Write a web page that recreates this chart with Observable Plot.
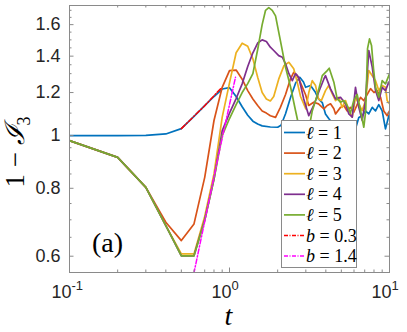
<!DOCTYPE html>
<html><head><meta charset="utf-8">
<script src="https://cdn.jsdelivr.net/npm/d3@7"></script>
<script src="https://cdn.jsdelivr.net/npm/@observablehq/plot@0.6"></script>
<style>html,body{margin:0;padding:0;background:#fff;} svg{display:block}</style>
</head><body><div id="chart"></div>
<script>
// ---- data (t, 1 - I3) ----
const l1 = [[0.1,1.0],[0.2,1.0],[0.3,1.001],[0.4,1.007],[0.5,1.03],[0.6,1.085],[0.7,1.135],[0.8,1.18],[0.9,1.218],[1.0,1.225],[1.1,1.18],[1.2,1.13],[1.3,1.09],[1.4,1.063],[1.5,1.05],[1.6,1.042],[1.8,1.037],[2.0,1.036],[2.1,1.045],[2.24,1.097],[2.41,1.176],[2.59,1.25],[2.75,1.28],[2.9,1.255],[2.99,1.227],[3.21,1.236],[3.45,1.2],[3.6,1.168],[3.8,1.15],[3.98,1.096],[4.17,1.075],[4.28,1.065],[4.6,1.043],[4.94,1.053],[5.31,1.036],[5.71,1.058],[6.13,1.029],[6.43,1.08],[6.75,1.088],[7.08,1.11],[7.42,1.096],[7.8,1.127],[8.18,1.11],[8.57,1.14],[9.0,1.11],[9.44,1.029],[9.9,1.088],[10,1.09]];
const l2 = [[0.1,0.979],[0.2,0.912],[0.3,0.803],[0.4,0.693],[0.5,0.641],[0.6,0.688],[0.7,0.838],[0.8,1.066],[0.9,1.227],[1.0,1.317],[1.1,1.32],[1.2,1.27],[1.3,1.21],[1.4,1.168],[1.5,1.136],[1.6,1.11],[1.7,1.1],[1.8,1.088],[1.94,1.08],[2.08,1.127],[2.24,1.19],[2.4,1.27],[2.52,1.307],[2.65,1.29],[2.78,1.25],[2.985,1.19],[3.13,1.136],[3.36,1.152],[3.6,1.144],[3.89,1.12],[4.08,1.136],[4.28,1.144],[4.49,1.12],[4.6,1.096],[4.94,1.127],[5.18,1.136],[5.44,1.11],[5.7,1.127],[5.98,1.104],[6.28,1.14],[6.59,1.176],[6.91,1.16],[7.25,1.19],[7.61,1.22],[8.0,1.2],[8.38,1.21],[8.79,1.176],[9.21,1.11],[9.67,1.088],[10,1.11]];
const l3 = [[0.1,0.979],[0.2,0.912],[0.3,0.803],[0.4,0.683],[0.5,0.606],[0.6,0.606],[0.7,0.71],[0.8,0.85],[0.9,1.08],[1.0,1.25],[1.1,1.42],[1.2,1.479],[1.3,1.46],[1.4,1.384],[1.5,1.28],[1.6,1.2],[1.7,1.168],[1.8,1.158],[1.89,1.18],[2.03,1.27],[2.19,1.345],[2.35,1.364],[2.52,1.327],[2.65,1.254],[2.78,1.18],[3.0,1.12],[3.13,1.2],[3.29,1.262],[3.45,1.236],[3.6,1.168],[3.75,1.16],[3.98,1.21],[4.17,1.236],[4.39,1.193],[4.6,1.16],[4.82,1.176],[5.06,1.127],[5.31,1.16],[5.57,1.112],[5.85,1.081],[6.13,1.176],[6.43,1.144],[6.75,1.112],[7.08,1.16],[7.42,1.317],[7.8,1.289],[8.18,1.262],[8.57,1.21],[9.0,1.236],[9.44,1.227],[9.67,1.16],[10,1.144]];
const l4 = [[0.1,0.979],[0.2,0.912],[0.3,0.803],[0.4,0.683],[0.5,0.601],[0.6,0.601],[0.7,0.7],[0.8,0.832],[0.9,1.02],[1.0,1.1],[1.1,1.17],[1.2,1.245],[1.3,1.34],[1.4,1.42],[1.5,1.48],[1.6,1.5],[1.7,1.49],[1.8,1.454],[1.89,1.434],[2.03,1.403],[2.14,1.394],[2.24,1.355],[2.35,1.3],[2.47,1.262],[2.585,1.3],[2.71,1.28],[2.91,1.168],[3.13,1.088],[3.36,1.136],[3.6,1.2],[3.89,1.271],[3.98,1.289],[4.28,1.219],[4.6,1.168],[4.94,1.176],[5.31,1.144],[5.57,1.096],[5.85,1.081],[6.13,1.227],[6.43,1.127],[6.75,1.066],[7.08,1.16],[7.42,1.434],[7.8,1.336],[8.18,1.21],[8.57,1.16],[9.0,1.227],[9.44,1.21],[9.9,1.254],[10,1.25]];
const l5 = [[0.1,0.979],[0.2,0.912],[0.3,0.803],[0.4,0.683],[0.5,0.601],[0.6,0.601],[0.7,0.698],[0.8,0.832],[0.9,1.0],[1.0,1.075],[1.1,1.14],[1.2,1.2],[1.3,1.246],[1.4,1.3],[1.5,1.44],[1.6,1.6],[1.68,1.7],[1.76,1.72],[1.85,1.7],[1.94,1.66],[2.08,1.495],[2.24,1.336],[2.41,1.227],[2.585,1.112],[2.78,1.007],[2.9,0.96],[3.06,0.99],[3.29,1.11],[3.53,1.185],[3.8,1.289],[4.08,1.317],[4.2,1.33],[4.49,1.254],[4.71,1.168],[4.94,1.152],[5.18,1.16],[5.44,1.136],[5.7,1.1],[5.98,1.16],[6.28,1.19],[6.59,1.112],[6.91,1.036],[7.1,1.11],[7.29,1.445],[7.5,1.506],[7.72,1.465],[7.94,1.33],[8.18,1.227],[8.57,1.176],[9.0,1.262],[9.44,1.245],[9.9,1.289],[10,1.3]];
const b03 = [[0.5,1.03],[0.7,1.135],[0.88,1.22]];
const b14 = [[0.598,0.557],[0.88,0.96],[1.09,1.28]];

const seriesNames = ["1","2","3","4","5"];
const seriesColors = ["#0072BD","#D95319","#EDB120","#7E2F8E","#77AC30"];
const fitNames = ["0.3","1.4"];
const fitColors = ["#FF0000","#FF00FF"];

const xMajor = [0.1, 1, 10];
const xExp = ["-1", "0", "1"];
const xMinor = [0.2,0.3,0.4,0.5,0.6,0.7,0.8,0.9,2,3,4,5,6,7,8,9];
const yMajor = [0.6, 0.8, 1, 1.2, 1.4, 1.6];
const yLabels = ["0.6", "0.8", "1", "1.2", "1.4", "1.6"];
const yMinor = [0.65,0.7,0.75,0.85,0.9,0.95,1.05,1.1,1.15,1.25,1.3,1.35,1.45,1.5,1.55,1.65,1.7];

// ---- layout ----
const W = 407, H = 332, mL = 69, mR = 18, mT = 5, mB = 60;
const pw = W - mL - mR, ph = H - mT - mB;
const axisColor = "#8a8a8a", textColor = "#262626";
const big = 4.5, small = 2.5;

const allSeries = [l1, l2, l3, l4, l5];
const lineMarks = allSeries.map((s, i) =>
  Plot.line(s, {x: d => d[0], y: d => d[1], stroke: seriesColors[i], strokeWidth: 1.7, clip: true}));

const chart = Plot.plot({
  width: W, height: H,
  marginLeft: mL, marginRight: mR, marginTop: mT, marginBottom: mB,
  x: {type: "log", domain: [0.1, 10], axis: null},
  y: {type: "log", domain: [0.56, 1.735], axis: null},
  style: {fontFamily: "'Liberation Sans', Arial, Helvetica, sans-serif", background: "#fff", overflow: "visible"},
  marks: [
    ...lineMarks,
    Plot.line(b03, {x: d => d[0], y: d => d[1], stroke: fitColors[0], strokeWidth: 1.5, strokeDasharray: "5,2,1.2,2", clip: true}),
    Plot.line(b14, {x: d => d[0], y: d => d[1], stroke: fitColors[1], strokeWidth: 1.5, strokeDasharray: "5,2,1.2,2", clip: true}),
    // ticks (inward, on all four sides)
    Plot.ruleX(xMajor, {x: d => d, insetTop: ph - big, stroke: axisColor}),
    Plot.ruleX(xMajor, {x: d => d, insetBottom: ph - big, stroke: axisColor}),
    Plot.ruleX(xMinor, {x: d => d, insetTop: ph - small, stroke: axisColor}),
    Plot.ruleX(xMinor, {x: d => d, insetBottom: ph - small, stroke: axisColor}),
    Plot.ruleY(yMajor, {y: d => d, insetRight: pw - big, stroke: axisColor}),
    Plot.ruleY(yMajor, {y: d => d, insetLeft: pw - big, stroke: axisColor}),
    Plot.ruleY(yMinor, {y: d => d, insetRight: pw - small, stroke: axisColor}),
    Plot.ruleY(yMinor, {y: d => d, insetLeft: pw - small, stroke: axisColor}),
    Plot.frame({stroke: axisColor, strokeWidth: 1}),
    // tick labels
    Plot.text(yMajor, {y: d => d, frameAnchor: "left", dx: -9, text: (d, i) => yLabels[i], textAnchor: "end", fontSize: 18, fill: textColor}),
    Plot.text(xMajor, {x: d => d, frameAnchor: "bottom", dy: 25, dx: 2, text: () => "10", textAnchor: "end", fontSize: 18, fill: textColor}),
    Plot.text(xMajor, {x: d => d, frameAnchor: "bottom", dy: 17, dx: 2, text: (d, i) => xExp[i], textAnchor: "start", fontSize: 13, fill: textColor})
  ]
});

document.getElementById("chart").appendChild(chart);

// ---- decorations: axis titles, panel label, legend ----
const svg = d3.select(chart);
const serif = "'Liberation Serif', 'Times New Roman', 'DejaVu Serif', serif";

const yl = svg.append("text")
  .attr("transform", "translate(24,152) rotate(-90)")
  .attr("text-anchor", "middle")
  .attr("font-family", serif).attr("font-size", 27).attr("fill", "#000");
yl.append("tspan").text("1 − ");
yl.append("tspan").attr("font-style", "italic").text("ℐ");
yl.append("tspan").attr("font-size", 18).attr("dy", 6).text("3");

svg.append("text").attr("x", 228.5).attr("y", 325)
  .attr("text-anchor", "middle").attr("font-family", serif).attr("font-style", "italic")
  .attr("font-size", 28).attr("fill", "#000").text("t");

svg.append("text").attr("x", 92).attr("y", 252).attr("text-anchor", "start")
  .attr("font-family", serif).attr("font-size", 28).attr("fill", "#000").text("(a)");

const lg = svg.append("g").attr("text-anchor", "start");
lg.append("rect").attr("x", 281.5).attr("y", 120.5).attr("width", 75).attr("height", 147)
  .attr("fill", "#fff").attr("stroke", axisColor).attr("stroke-width", 1);
const entries = [
  ...seriesNames.map((n, i) => ({sym: "ℓ", val: n, color: seriesColors[i], dash: null})),
  ...fitNames.map((n, i) => ({sym: "b", val: n, color: fitColors[i], dash: "4,1.5,1,1.5"}))
];
entries.forEach((e, i) => {
  const y = 132.5 + i * 20.6;
  const ln = lg.append("line").attr("x1", 284).attr("x2", 305).attr("y1", y).attr("y2", y)
    .attr("stroke", e.color).attr("stroke-width", e.dash ? 1.5 : 1.7);
  if (e.dash) ln.attr("stroke-dasharray", e.dash);
  const t = lg.append("text").attr("x", 306).attr("y", y + 6).attr("text-anchor", "start")
    .attr("font-family", serif).attr("font-size", 18).attr("fill", "#000");
  t.append("tspan").attr("font-style", "italic").text(e.sym);
  t.append("tspan").text(" = " + e.val);
});
</script>
</body></html>
